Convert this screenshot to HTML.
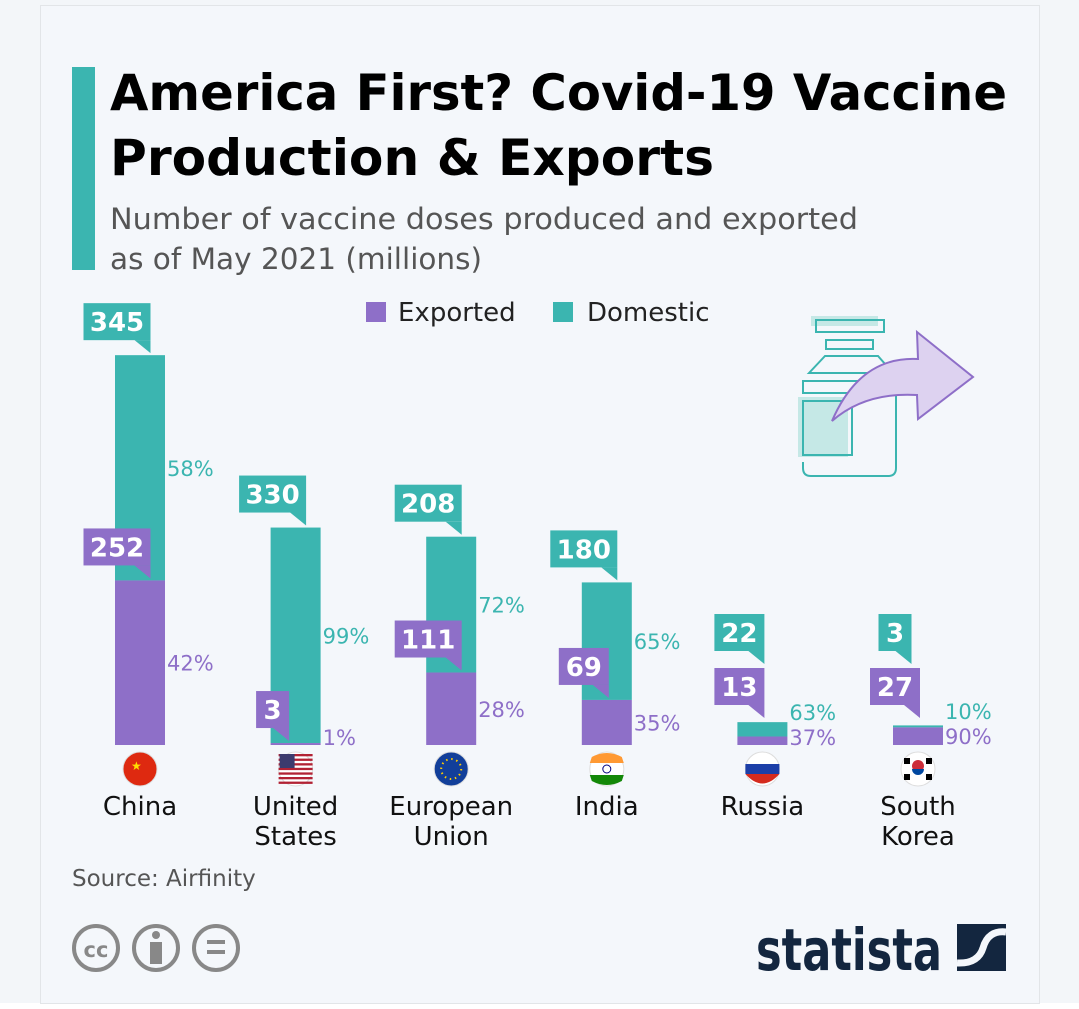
<!DOCTYPE html>
<html><head><meta charset="utf-8"><style>
body{margin:0;background:#f3f6f9;width:1079px;height:1009px;overflow:hidden;font-family:"DejaVu Sans","Liberation Sans",sans-serif}
svg{display:block}
</style></head><body>
<svg id="chart" width="1079" height="1009" viewBox="0 0 1079 1009">
<rect x="0" y="0" width="1079" height="1009" fill="#f3f6f9"/>
<rect x="0" y="1003" width="1079" height="6" fill="#ffffff"/>
<rect x="40.5" y="5.5" width="999" height="998" fill="#f4f7fb" stroke="#e2e5e8"/>
<rect x="72" y="67" width="23" height="203" fill="#3bb5b0"/>
<text x="110" y="110" font-size="50" font-weight="bold" fill="#000" textLength="897" lengthAdjust="spacingAndGlyphs">America First? Covid-19 Vaccine</text>
<text x="110" y="175" font-size="50" font-weight="bold" fill="#000" textLength="604" lengthAdjust="spacingAndGlyphs">Production &amp; Exports</text>
<text x="110" y="229" font-size="29" fill="#555" textLength="748" lengthAdjust="spacingAndGlyphs">Number of vaccine doses produced and exported</text>
<text x="110" y="269" font-size="29" fill="#555" textLength="372" lengthAdjust="spacingAndGlyphs">as of May 2021 (millions)</text>
<g>
<g><rect x="366" y="302" width="20" height="20" fill="#8e6fc8"/><text x="398" y="321" font-size="26" fill="#222">Exported</text></g>
<g><rect x="553" y="302" width="20" height="20" fill="#3bb5b0"/><text x="587" y="321" font-size="26" fill="#222">Domestic</text></g>
</g>
<g fill="none" stroke-width="2">
<rect x="811" y="316" width="67" height="10" fill="#c5e8e6" stroke="none"/>
<rect x="816" y="320" width="68" height="12" stroke="#3bb5b0"/>
<rect x="826" y="340" width="47" height="9" stroke="#3bb5b0"/>
<path d="M809 373 L825 356 L878 356 L893 373 Z" stroke="#3bb5b0"/>
<rect x="803" y="381" width="93" height="12" stroke="#3bb5b0"/>
<rect x="798" y="397" width="50" height="60" fill="#c5e8e6" stroke="none"/>
<rect x="803" y="401" width="49" height="54" stroke="#3bb5b0"/>
<path d="M803 462 L803 468 Q803 476 811 476 L888 476 Q896 476 896 468 L896 393" stroke="#3bb5b0"/>
<path d="M832 421 Q860 356 918 359 L917 332 L973 377 L918 419 L917 395 Q865 392 832 421 Z" fill="#ddd2f0" stroke="#8e6fc8"/>
</g>
<g id="bars"></g>
<text x="72" y="886" font-size="23" fill="#555">Source: Airfinity</text>
<g fill="none" stroke="#888" stroke-width="4">
<circle cx="96" cy="948" r="22"/><text x="96" y="957" font-size="21" font-weight="bold" fill="#888" stroke="none" text-anchor="middle">cc</text>
<circle cx="156" cy="948" r="22"/><circle cx="156" cy="935" r="4" fill="#888" stroke="none"/><rect x="150" y="942" width="12" height="22" fill="#888" stroke="none"/>
<circle cx="216" cy="948" r="22"/><rect x="207" y="940" width="18" height="4" fill="#888" stroke="none"/><rect x="207" y="950" width="18" height="4" fill="#888" stroke="none"/>
</g>
<g>
<text x="756" y="970" font-size="58" font-weight="bold" fill="#13263f" textLength="186" lengthAdjust="spacingAndGlyphs">statista</text>
<rect x="957" y="924" width="49" height="47" fill="#13263f"/>
<path d="M1006 932 Q988 930 983 948 Q978 964 957 963" fill="none" stroke="#f4f7fb" stroke-width="7"/>
</g>
</svg>
<script>
const countries=["China","United States","European Union","India","Russia","South Korea"];
const domestic=[345,330,208,180,22,3];
const exported=[252,3,111,69,13,27];
const domesticPct=["58%","99%","72%","65%","63%","10%"];
const exportedPct=["42%","1%","28%","35%","37%","90%"];
const NS="http://www.w3.org/2000/svg";
const g=document.getElementById("bars");
const base=745, scale=0.653, x0=115, step=155.6, bw=50;
const TEAL="#3bb5b0", PURP="#8e6fc8";
function xPos(i){return x0+i*step;}
function yLen(v){return v*scale;}
function mk(tag,attrs,parent){const e=document.createElementNS(NS,tag);for(const k in attrs)e.setAttribute(k,attrs[k]);(parent||g).appendChild(e);return e;}
function label(val,color,cx,bottom,name){
  const s=String(val);const w=s.length*17+16;const h=37;
  const grp=mk("g",{});
  
  
  const left=cx-w/2, right=cx+w/2;
  mk("rect",{x:left,y:bottom-h,width:w,height:h,fill:color},grp);
  mk("path",{d:`M${right-16} ${bottom} L${right} ${bottom} L${right} ${bottom+13} Z`,fill:color},grp);
  const t=mk("text",{x:cx,y:bottom-9,"font-size":26,"font-weight":"bold",fill:"#fff","text-anchor":"middle"},grp);
  t.textContent=s;
}
function flag(i,cx,cy){
  const fg=mk("g",{});
  
  
  const cols=["#de2910","#ffffff","#123f9a","#ffffff","#ffffff","#ffffff"];
  mk("circle",{cx,cy,r:17,fill:cols[i],stroke:"#ddd","stroke-width":1},fg);
  if(i===0){mk("text",{x:cx-9,y:cy+1,"font-size":12,fill:"#ffde00"},fg).textContent="★";}
  if(i===1){for(let k=0;k<7;k++)mk("rect",{x:cx-17,y:cy-15+k*4.6,width:34,height:2.3,fill:"#b22234"},fg);mk("rect",{x:cx-16,y:cy-15,width:15,height:14,fill:"#3c3b6e"},fg);}
  if(i===2){mk("circle",{cx,cy,r:10,fill:"none",stroke:"#ffcc00","stroke-width":2,"stroke-dasharray":"1.5 3.7"},fg);}
  if(i===3){mk("path",{d:`M${cx-17} ${cy-6} L${cx+17} ${cy-6} L${cx+15} ${cy-12} Q${cx} ${cy-20} ${cx-15} ${cy-12} Z`,fill:"#f93"},fg);mk("path",{d:`M${cx-17} ${cy+6} L${cx+17} ${cy+6} L${cx+15} ${cy+12} Q${cx} ${cy+20} ${cx-15} ${cy+12} Z`,fill:"#138808"},fg);mk("circle",{cx,cy,r:4,fill:"none",stroke:"#000080"},fg);}
  if(i===4){mk("rect",{x:cx-17,y:cy-5,width:34,height:10,fill:"#1c3fa8"},fg);mk("path",{d:`M${cx-17} ${cy+5} L${cx+17} ${cy+5} Q${cx} ${cy+24} ${cx-17} ${cy+5} Z`,fill:"#d52b1e"},fg);}
  if(i===5){mk("circle",{cx,cy:cy-3,r:6,fill:"#cd2e3a"},fg);mk("path",{d:`M${cx-6} ${cy} A6 6 0 0 0 ${cx+6} ${cy} Z`,fill:"#0047a0"},fg);
    [[-11,-8],[11,-8],[-11,8],[11,8]].forEach(p=>mk("rect",{x:cx+p[0]-3,y:cy+p[1]-3,width:6,height:6,fill:"#000"},fg));}
}
countries.forEach((c,i)=>{
  const x=xPos(i);
  const eH=yLen(exported[i]), dH=yLen(domestic[i]);
  const purpleTop=base-eH, barTop=base-eH-dH;
  const bt=mk("rect",{x,y:barTop,width:bw,height:dH,fill:TEAL});
  
  
  const bp=mk("rect",{x,y:purpleTop,width:bw,height:eH,fill:PURP});
  
  
  let eBottom=purpleTop-15;
  let dBottom=barTop-15;
  if(dBottom>eBottom-37-17){
    eBottom=Math.min(eBottom,705);
    dBottom=Math.min(dBottom,eBottom-37-17);
  }
  label(exported[i],PURP,x+2,eBottom,'label-exported-'+i);
  label(domestic[i],TEAL,x+2,dBottom,'label-domestic-'+i);
  const pY=Math.min(purpleTop+eH/2,737);
  const tY=Math.min(barTop+dH/2,pY-25);
  const tp=mk("text",{x:x+bw+2,y:pY+8,"font-size":21,fill:PURP});tp.textContent=exportedPct[i];
  
  
  const td=mk("text",{x:x+bw+2,y:tY+8,"font-size":21,fill:TEAL});td.textContent=domesticPct[i];
  
  
  flag(i,x+bw/2,769);
  const words=c.split(" ");
  const lines=words.length>1?[words[0],words.slice(1).join(" ")]:[c];
  lines.forEach((ln,k)=>{
    const t=mk("text",{x:x+bw/2,y:815+k*30,"font-size":26,fill:"#111","text-anchor":"middle"});
    t.textContent=ln;
    
    
  });
});
</script>
</body></html>
